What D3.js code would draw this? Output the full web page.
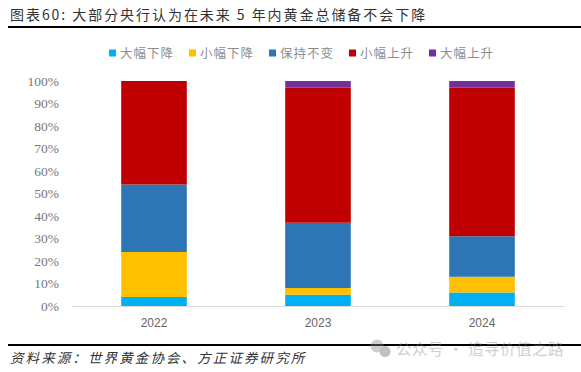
<!DOCTYPE html>
<html>
<head>
<meta charset="utf-8">
<script src="https://cdn.jsdelivr.net/npm/d3@7"></script>
<style>
  html, body { margin: 0; padding: 0; background: #fff; }
  text { font-family: "Noto Sans CJK SC", sans-serif; }
</style>
</head>
<body>
<svg id="chart" width="581" height="372"></svg>
<script>
const years = ["2022", "2023", "2024"];
const seriesNames = ["大幅下降", "小幅下降", "保持不变", "小幅上升", "大幅上升"];
const seriesColors = ["#00b0f0", "#ffc000", "#2e75b6", "#c00000", "#7030a0"];
const bigDown = [4, 5, 6];
const smallDown = [20, 3, 7];
const noChange = [30, 29, 18];
const smallUp = [46, 60, 66];
const bigUp = [0, 3, 3];
const yTicks = [0, 10, 20, 30, 40, 50, 60, 70, 80, 90, 100];

const titleText = "图表60: 大部分央行认为在未来 5 年内黄金总储备不会下降";
const sourceText = "资料来源：世界黄金协会、方正证券研究所";
const markText = "公众号 · 追寻价值之路";

const rows = years.map((y, i) => ({
  year: y,
  [seriesNames[0]]: bigDown[i],
  [seriesNames[1]]: smallDown[i],
  [seriesNames[2]]: noChange[i],
  [seriesNames[3]]: smallUp[i],
  [seriesNames[4]]: bigUp[i],
}));

const svg = d3.select("#chart");
const fnX = d3.scaleBand().domain(years).range([72, 564]).paddingInner(0.6).paddingOuter(0.3);
const fnY = d3.scaleLinear().domain([0, 100]).range([306, 81]);
const fnColor = d3.scaleOrdinal().domain(seriesNames).range(seriesColors);

// title and rules
svg.append("text")
  .attr("x", 10).attr("y", 20)
  .attr("font-size", 14).attr("fill", "#333").attr("letter-spacing", 1.95)
  .text(titleText);
svg.append("rect").attr("x", 8).attr("y", 26).attr("width", 573).attr("height", 2).attr("fill", "#000");
svg.append("rect").attr("x", 8).attr("y", 344).attr("width", 573).attr("height", 2).attr("fill", "#000");
svg.append("text")
  .attr("x", 10).attr("y", 363)
  .attr("font-size", 13.5).attr("font-style", "italic").attr("fill", "#333").attr("letter-spacing", 2.1)
  .text(sourceText);

// legend
const fnLegend = d3.scalePoint().domain(seriesNames).range([109, 429]);
const legend = svg.append("g").selectAll("g").data(seriesNames).join("g")
  .attr("transform", (d) => `translate(${fnLegend(d)},53)`);
legend.append("rect").attr("x", 0).attr("y", -3.5).attr("width", 7).attr("height", 7)
  .attr("fill", (d) => fnColor(d));
legend.append("text").attr("x", 11).attr("y", 5)
  .attr("font-size", 12.5).attr("fill", "#8c8c8c").attr("letter-spacing", 1)
  .text((d) => d);

// bars
const stacked = d3.stack().keys(seriesNames)(rows);
svg.append("g").selectAll("g").data(stacked).join("g")
  .attr("fill", (s) => fnColor(s.key))
  .selectAll("rect").data((s) => s).join("rect")
  .attr("x", (d) => fnX(d.data.year))
  .attr("width", fnX.bandwidth())
  .attr("y", (d) => fnY(d[1]))
  .attr("height", (d) => fnY(d[0]) - fnY(d[1]));

//axis
const xAxis = d3.axisBottom(fnX).tickSize(0).tickPadding(12);
const gx = svg.append("g").attr("transform", "translate(0,306)").call(xAxis);
gx.select(".domain").attr("stroke", "#d9d9d9");
gx.selectAll("text").style("font-family", '"Liberation Sans", sans-serif').attr("font-size", 12).attr("fill", "#666");

const yAxis = d3.axisLeft(fnY).tickValues(yTicks).tickSize(0).tickPadding(13).tickFormat((t) => t + "%");
const gy = svg.append("g").attr("transform", "translate(72,0)").call(yAxis);
gy.select(".domain").remove();
gy.selectAll("text").style("font-family", '"Liberation Serif", serif').attr("font-size", 13.5).attr("fill", "#777");

// watermark
const mark = svg.append("g").attr("opacity", 0.4);
mark.append("circle").attr("cx", 377).attr("cy", 346).attr("r", 6.5).attr("fill", "#888");
mark.append("circle").attr("cx", 385).attr("cy", 351.5).attr("r", 5.5).attr("fill", "#666");
mark.append("text").attr("x", 396).attr("y", 355)
  .attr("font-size", 15.5).attr("fill", "#888").attr("letter-spacing", 0.5).text(markText);
</script>
</body>
</html>
